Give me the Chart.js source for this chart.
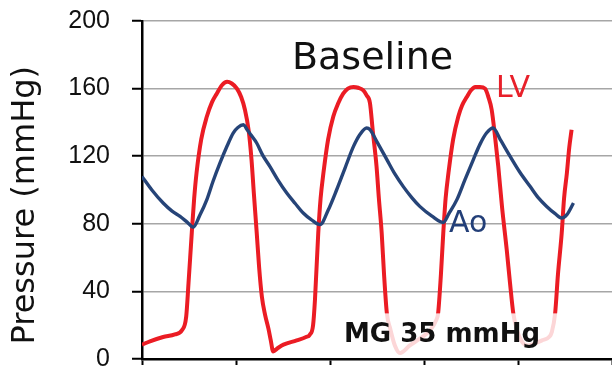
<!DOCTYPE html>
<html lang="en">
<head>
    <meta charset="UTF-8">
    <title>Baseline LV / Ao pressure</title>
    <style>
        body { margin: 0; background: #fff; }
        #wrap { width: 612px; height: 366px; }
    </style>
</head>
<body>
    <div id="wrap">
        <canvas id="myChart"></canvas>
    </div>

    <script src="https://cdn.jsdelivr.net/npm/chart.js"></script>

    <script>
        // time in seconds (x axis 0 ~ 1.0 s, tick every 0.2 s)
        const lvTime = [
            0.000, 0.017, 0.045, 0.070, 0.085, 0.094, 0.099, 0.106, 0.111, 0.116,
            0.126, 0.138, 0.149, 0.159, 0.170, 0.181, 0.191, 0.202, 0.211, 0.219,
            0.227, 0.233, 0.238, 0.244, 0.249, 0.255, 0.262, 0.269, 0.274, 0.279,
            0.289, 0.301, 0.329, 0.349, 0.357, 0.364, 0.368, 0.375, 0.380, 0.386,
            0.396, 0.407, 0.417, 0.428, 0.438, 0.450, 0.460, 0.471, 0.478, 0.485,
            0.491, 0.499, 0.504, 0.510, 0.515, 0.521, 0.528, 0.538, 0.549, 0.570,
            0.591, 0.613, 0.626, 0.630, 0.636, 0.641, 0.646, 0.652, 0.662, 0.673,
            0.681, 0.691, 0.700, 0.709, 0.719, 0.730, 0.737, 0.744, 0.751, 0.758,
            0.766, 0.776, 0.783, 0.790, 0.798, 0.809, 0.821, 0.834, 0.851, 0.866,
            0.872, 0.879, 0.885, 0.893, 0.898, 0.904, 0.909, 0.914
        ];
        const lvPressure = [
            8.5, 10.5, 13, 14.5, 17, 25, 45, 75, 95, 110,
            130, 143.5, 152, 157, 162, 164, 163, 160, 155, 147.5,
            135, 118, 98, 75, 55, 37, 26, 18, 11, 4.5,
            6.5, 8.5, 11, 13, 14.4, 20, 35, 74.5, 95, 110,
            130, 143.5, 151, 157, 160, 161, 160.5, 159, 156, 151.5,
            135, 114, 95, 74.5, 50, 27, 18, 8, 3.5, 8,
            12, 17, 23, 27, 50, 74.5, 95, 110, 130, 143.5,
            150, 155, 159, 161, 161, 160, 155, 147.5, 132, 114,
            90, 64.7, 45, 27, 17, 10, 8, 9, 11, 13,
            16, 27, 50, 74.5, 95, 110, 125, 135.7
        ];

        const aoTime = [
            0.000, 0.021, 0.045, 0.064, 0.081, 0.096, 0.109, 0.123, 0.138, 0.151,
            0.166, 0.181, 0.194, 0.204, 0.216, 0.223, 0.232, 0.244, 0.257, 0.272,
            0.289, 0.308, 0.326, 0.343, 0.360, 0.379, 0.396, 0.414, 0.432, 0.450,
            0.464, 0.478, 0.485, 0.500, 0.521, 0.538, 0.556, 0.574, 0.591, 0.617,
            0.641, 0.653, 0.670, 0.687, 0.705, 0.719, 0.733, 0.747, 0.762, 0.783,
            0.804, 0.826, 0.843, 0.861, 0.879, 0.893, 0.904, 0.918
        ];
        const aoPressure = [
            108, 100, 92.3, 87.5, 84.4, 81, 78, 85, 94.3, 105,
            116, 126, 133.7, 137, 138.6, 136, 132.5, 127.8, 120.5, 114,
            106, 98.2, 92, 86.4, 82.5, 79.5, 88, 100, 113, 125.8,
            133, 136.7, 135.7, 128.5, 118, 109.5, 102, 95.5, 90.3, 84.5,
            80.8, 86, 94.3, 106, 118, 127, 133.7, 136.7, 130, 120,
            110.5, 102, 95.5, 90.3, 86, 83.4, 85.4, 92.3
        ];

        const yTicks = [0, 40, 80, 120, 160, 200];

        function f_points(p_x, p_y) {
            return p_x.map((v, i) => ({ x: v, y: p_y[i] }));
        }

        // 글자와 반투명 박스 (MG 35 mmHg 뒤)
        const labelPlugin = {
            id: 'labels',
            afterDatasetsDraw(chart) {
                const c = chart.ctx;
                const xs = chart.scales.x;
                const ys = chart.scales.y;
                c.save();
                // white box that fades the LV trace behind the gradient label
                let x0 = xs.getPixelForValue(0.41);
                let x1 = xs.getPixelForValue(0.925);
                let y0 = ys.getPixelForValue(27);
                let y1 = ys.getPixelForValue(1);
                c.fillStyle = 'rgba(255,255,255,0.82)';
                c.fillRect(x0, y0, x1 - x0, y1 - y0);

                c.textBaseline = 'alphabetic';
                c.textAlign = 'left';
                c.fillStyle = '#111';
                c.font = '38px "DejaVu Sans"';
                c.fillText('Baseline', 292, 69);

                c.fillStyle = '#e8202a';
                c.font = '30px "DejaVu Sans"';
                c.fillText('LV', 496, 97);

                c.fillStyle = '#233f78';
                c.fillText('Ao', 449, 232);

                c.fillStyle = '#111';
                c.font = 'bold 26px "DejaVu Sans"';
                c.fillText('MG 35 mmHg', 344, 342);
                c.restore();
            }
        };

        const ctx = document.getElementById('myChart');

        let chart = new Chart(ctx, {
            type: 'line',
            data: {
                datasets: [{
                    label: 'Ao',
                    data: f_points(aoTime, aoPressure),
                    borderColor: '#264478',
                    borderWidth: 3.4,
                    pointRadius: 0,
                    cubicInterpolationMode: 'monotone'
                },
                {
                    label: 'LV',
                    data: f_points(lvTime, lvPressure),
                    borderColor: '#eb1c24',
                    borderWidth: 4,
                    pointRadius: 0,
                    cubicInterpolationMode: 'monotone'
                }]
            },
            options: {
                responsive: true,
                maintainAspectRatio: false,
                animation: false,
                layout: { padding: { top: 21, right: 0, bottom: 1, left: 0 } },
                plugins: {
                    legend: { display: false },
                    tooltip: { enabled: false }
                },
                scales: {
                    x: {
                        type: 'linear',
                        min: 0,
                        max: 1,
                        ticks: { display: false, stepSize: 0.2 },
                        grid: {
                            drawOnChartArea: false,
                            drawTicks: true,
                            tickLength: 6,
                            tickColor: '#000',
                            tickWidth: 2
                        },
                        border: { color: '#000', width: 2.5 }
                    },
                    y: {
                        min: 0,
                        max: 200,
                        afterBuildTicks(scale) {
                            scale.ticks = yTicks.map(v => ({ value: v }));
                        },
                        afterFit(scale) {
                            scale.width = 142;
                            scale.paddingTop = 0;
                            scale.paddingBottom = 0;
                        },
                        ticks: {
                            color: '#111',
                            padding: 22,
                            font: { family: '"Liberation Sans"', size: 25, lineHeight: 0.6 }
                        },
                        grid: {
                            color: '#a6a6a6',
                            lineWidth: 1.5,
                            tickLength: 10,
                            tickColor: '#000',
                            tickWidth: 2
                        },
                        border: { color: '#000', width: 2.5 },
                        title: {
                            display: true,
                            text: 'Pressure (mmHg)\u00a0\u00a0\u00a0',
                            color: '#111',
                            padding: { top: 6, bottom: 0 },
                            font: { family: '"DejaVu Sans"', size: 32 }
                        }
                    }
                }
            },
            plugins: [labelPlugin]
        });
    </script>
</body>
</html>
